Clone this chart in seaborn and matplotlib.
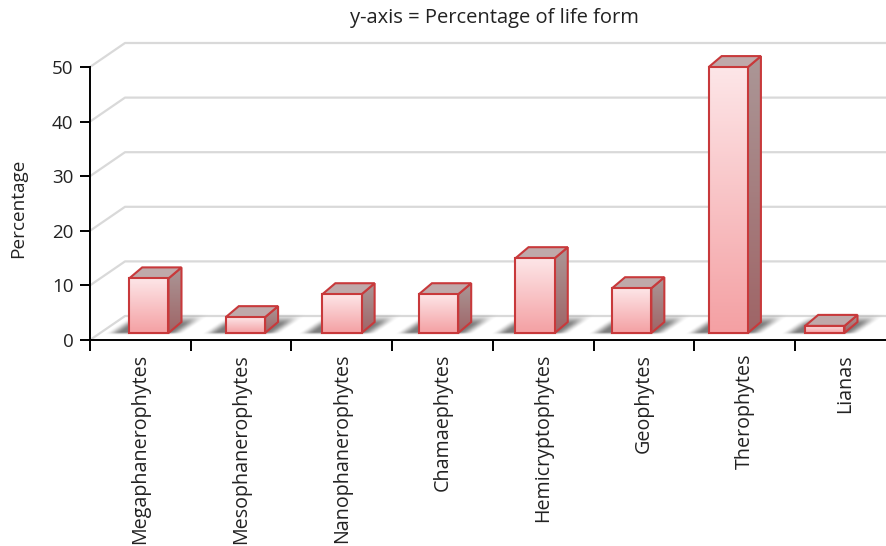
import numpy as np
import pandas as pd
import matplotlib
matplotlib.use("Agg")
import matplotlib.pyplot as plt
import seaborn as sns
from matplotlib.patches import Polygon
from matplotlib.colors import LinearSegmentedColormap

# Life-form spectrum (percentage of species)
categories = ["Megaphanerophytes", "Mesophanerophytes", "Nanophanerophytes",
              "Chamaephytes", "Hemicryptophytes", "Geophytes", "Therophytes", "Lianas"]
percent = [10.0, 2.9, 7.1, 7.1, 13.7, 8.2, 48.7, 1.3]
y_ticks = [0, 10, 20, 30, 40, 50]

sns.set_theme(style="white")
plt.rcParams["font.family"] = ["Open Sans", "DejaVu Sans"]

DPI = 100
W, H = 886, 546
fig = plt.figure(figsize=(W / DPI, H / DPI), dpi=DPI)
ax = fig.add_axes([90 / W, 206 / H, 796 / W, 300 / H])

df = pd.DataFrame({"form": categories, "pct": percent})
sns.barplot(data=df, x="form", y="pct", width=0.39, color="#f8c0c2",
            edgecolor="#c8393b", linewidth=1.5, ax=ax)

XMAX = -0.5 + 796 / 100.7
YMAX = 300 / 5.46
ax.set_xlim(-0.5, XMAX)
ax.set_ylim(0, YMAX)

to_px = ax.transData.transform
to_data = ax.transData.inverted().transform


def px_poly(points):
    return to_data(np.asarray(points, dtype=float))


def smooth(t):
    t = np.clip(t, 0, 1)
    return t * t * (3 - 2 * t)


# back wall gridlines with oblique depth
depth_px = np.array([35.0, 24.0])
x_left_px = to_px((-0.5, 0))[0]
x_right_px = to_px((XMAX, 0))[0]
for v in y_ticks:
    y0 = to_px((0, v))[1]
    pts = px_poly([(x_left_px, y0),
                   (x_left_px + depth_px[0], y0 + depth_px[1]),
                   (x_right_px + 5, y0 + depth_px[1])])
    ax.plot(pts[:, 0], pts[:, 1], color="#d9d9d9", lw=1.6, zorder=1,
            solid_capstyle="butt", clip_on=False)

front_cmap = LinearSegmentedColormap.from_list("front", ["#f4a0a3", "#fde6e8"])
side_cmap = LinearSegmentedColormap.from_list("side", ["#9f6466", "#ab9797"])
grad = np.linspace(0, 1, 256).reshape(-1, 1)

# bars stand on a floor row set back from the axis: lifted, shifted and
# slightly compressed in x by the perspective
lift_px = 7.0
shift0_px = 8.5
persp_scale = 0.959
bar_depth = np.array([13.0, 11.0])   # oblique depth of each bar
edge = "#c8393b"
cx_first = to_px((0, 0))[0]

for p in list(ax.patches):
    x0, w, h = p.get_x(), p.get_width(), p.get_height()
    cx = to_px((x0 + w / 2, 0))[0]
    new_cx = cx_first + shift0_px + (cx - cx_first) * persp_scale
    dx = new_cx - cx
    bl = to_px((x0, 0)) + np.array([dx, lift_px])
    tr = to_px((x0 + w, h)) + np.array([dx, lift_px])
    XL, YB = bl
    XR, YT = tr
    nb = to_data(bl)
    p.set_x(nb[0])
    p.set_y(nb[1])
    p.set_facecolor("none")
    p.set_zorder(7)

    # soft floor shadow behind the bar
    sx0, sx1 = XL - 30, XR + bar_depth[0] + 40
    sy0, sy1 = YB - 3, YB + 22
    gx = np.linspace(sx0, sx1, 220)
    gy = np.linspace(sy0, sy1, 60)
    GX, GY = np.meshgrid(gx, gy)
    u = GX - (GY - YB) * 1.46
    fade_x = smooth((u - (XL - 24)) / 16) * smooth(((XR + 16) - u) / 16)
    fade_y = smooth((GY - (YB - 2)) / 3) * smooth(((YB + 20) - GY) / 12)
    alpha = 0.8 * fade_x * fade_y
    rgba = np.zeros(alpha.shape + (4,))
    rgba[..., :3] = 0.36
    rgba[..., 3] = alpha
    e0 = to_data((sx0, sy0))
    e1 = to_data((sx1, sy1))
    ax.imshow(rgba, extent=(e0[0], e1[0], e0[1], e1[1]), origin="lower",
              aspect="auto", interpolation="bilinear", zorder=2)

    # side face with gradient
    side = Polygon(px_poly([(XR, YB), (XR + bar_depth[0], YB + bar_depth[1]),
                            (XR + bar_depth[0], YT + bar_depth[1]), (XR, YT)]),
                   closed=True, facecolor="none", edgecolor=edge, lw=1.5, zorder=6)
    ax.add_patch(side)
    s0 = to_data((XR, YB))
    s1 = to_data((XR + bar_depth[0], YT + bar_depth[1]))
    im = ax.imshow(grad, cmap=side_cmap, extent=(s0[0], s1[0], s0[1], s1[1]),
                   origin="lower", aspect="auto", zorder=5)
    im.set_clip_path(side)

    # top face
    top = Polygon(px_poly([(XL, YT), (XR, YT), (XR + bar_depth[0], YT + bar_depth[1]),
                           (XL + bar_depth[0], YT + bar_depth[1])]),
                  closed=True, facecolor="#bfa9aa", edgecolor=edge, lw=1.5, zorder=6)
    ax.add_patch(top)

    # front face gradient
    f0 = to_data((XL, YB))
    f1 = to_data((XR, YT))
    ax.imshow(grad, cmap=front_cmap, extent=(f0[0], f1[0], f0[1], f1[1]),
              origin="lower", aspect="auto", zorder=6.5)

ax.set_xlim(-0.5, XMAX)
ax.set_ylim(0, YMAX)

# axes styling
for s in ["top", "right"]:
    ax.spines[s].set_visible(False)
for s in ["left", "bottom"]:
    ax.spines[s].set_color("black")
    ax.spines[s].set_linewidth(1.4)
    ax.spines[s].set_zorder(8)
ax.spines["left"].set_bounds(0, 50)

ax.set_yticks(y_ticks)
ax.set_yticklabels([str(t) for t in y_ticks])
ax.set_xticks(range(len(categories)))
ax.set_xticklabels(categories, rotation=90)
ax.set_xticks(np.arange(-0.5, len(categories) - 0.5, 1.0), minor=True)
ax.tick_params(axis="y", left=True, direction="out", length=7, width=1.4,
               color="black", labelsize=13.5, labelcolor="#222222", pad=5)
ax.tick_params(axis="x", which="major", bottom=True, length=0, labelsize=14.2,
               labelcolor="#222222", pad=10)
ax.tick_params(axis="x", which="minor", bottom=True, direction="out", length=8,
               width=1.4, color="black")
ax.set_xlabel("")
ax.set_ylabel("")
ax.grid(False)

fig.text(494 / W, 1 - 18 / H, "y-axis = Percentage of life form", ha="center",
         va="center", fontsize=14.5, color="#222222")
fig.text(18 / W, 1 - 208 / H, "Percentage", ha="center", va="center",
         rotation=90, fontsize=13.7, color="#222222")

fig.savefig("out.png", dpi=DPI)
